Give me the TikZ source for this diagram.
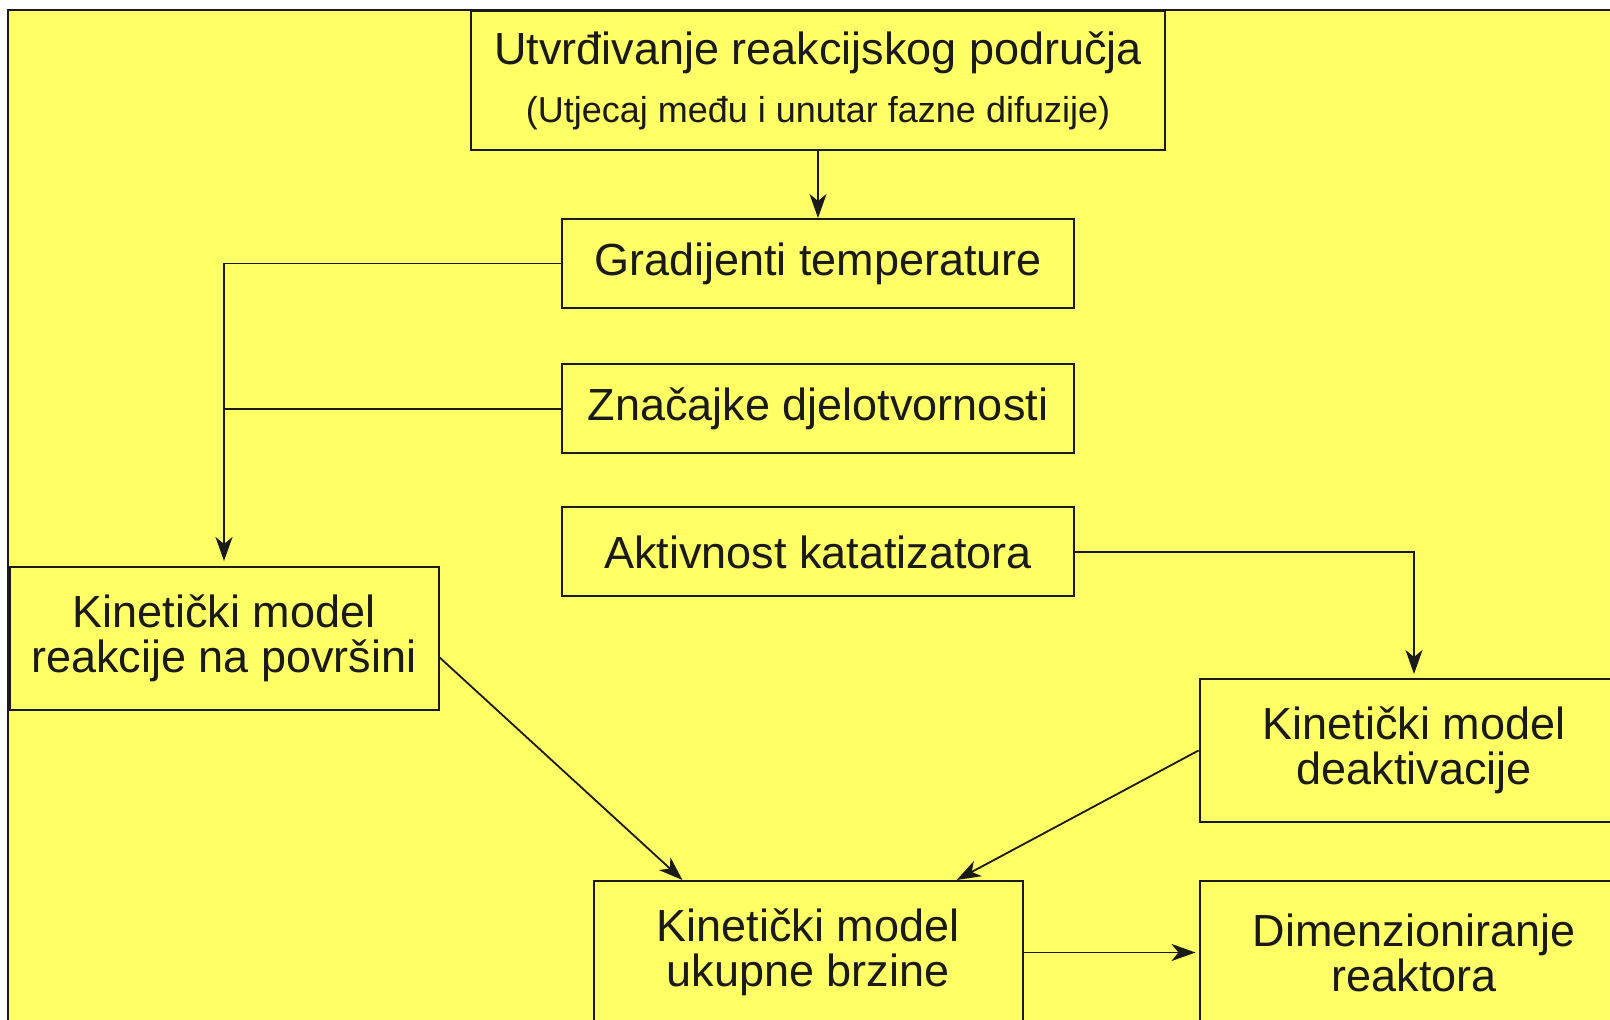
\documentclass[tikz,border=0pt]{standalone}
\usepackage{fontspec}
\setmainfont{Liberation Sans}
\usetikzlibrary{arrows.meta}
\definecolor{paneyellow}{RGB}{255,255,102}
\definecolor{inkgray}{RGB}{26,26,26}

\begin{document}
\begin{tikzpicture}[
  x=0.5pt, y=-0.5pt,
  box/.style={draw=inkgray, line width=1pt, fill=paneyellow, text=inkgray, align=center, inner sep=0pt, font=\fontsize{22.5}{22.5}\selectfont},
  wide/.style={minimum width=256pt, minimum height=44.5pt},
  model/.style={minimum width=214.5pt, minimum height=71.5pt},
  arrow/.style={-{Stealth[length=12pt, width=8.5pt, inset=3.5pt]}, line width=0.9pt, draw=inkgray},
  link/.style={line width=0.9pt, draw=inkgray}
]
\useasboundingbox (0,0) rectangle (1610,1020);
\clip (0,0) rectangle (1610,1020);
\draw[line width=1pt, draw=inkgray, fill=paneyellow] (8,10) rectangle (1650,1060);
\node[box, minimum width=347pt, minimum height=69.5pt] (region) at (818,80.5) {Utvrđivanje reakcijskog područja\\[6.5pt]{\fontsize{18}{18}\selectfont (Utjecaj među i unutar fazne difuzije)}};
\node[box, wide] (gradT) at (818,263.5) {Gradijenti temperature};
\node[box, wide] (effect) at (818,409) {Značajke djelotvornosti};
\node[box, wide] (activity) at (818,552) {Aktivnost katatizatora};
\node[box, model] (surface) at (224,638.5) {Kinetički model\\reakcije na površini};
\node[box, model] (deact) at (1414,750.5) {Kinetički model\\deaktivacije};
\node[box, model] (overall) at (808,952.5) {Kinetički model\\ukupne brzine};
\node[box, model] (reactor) at (1414,952.5) {Dimenzioniranje\\reaktora};
\draw[arrow] (region) -- (gradT);
\draw[arrow, shorten >=2.5pt] (gradT) -| (surface);
\draw[link] (effect.west) -- (effect.west -| surface.north);
\draw[arrow, shorten >=2pt] (activity) -| (deact);
\draw[arrow] (surface.-5) -- (overall.150);
\draw[arrow] (deact.west) -- (overall.26);
\draw[arrow, shorten >=1.5pt] (overall) -- (reactor);
\end{tikzpicture}
\end{document}
